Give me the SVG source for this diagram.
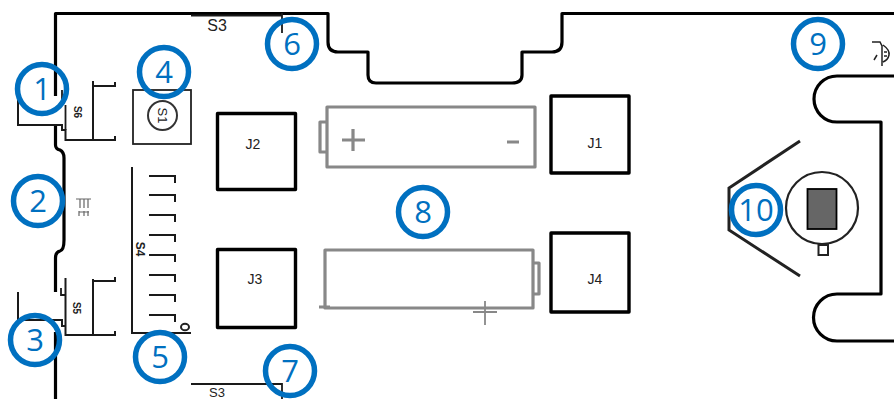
<svg xmlns="http://www.w3.org/2000/svg" width="894" height="399" viewBox="0 0 894 399">
<style>
.o{fill:none;stroke:#000;stroke-width:3.2;stroke-linejoin:round}
.t{fill:none;stroke:#1a1a1a;stroke-width:1.800}
.m{fill:none;stroke:#1a1a1a;stroke-width:2}
.j{fill:#fff;stroke:#000;stroke-width:3.4;stroke-linejoin:round}
.b{fill:none;stroke:#888;stroke-width:3.2;stroke-linejoin:round}
.c{fill:none;stroke:#0070c0;stroke-width:5.5}
.n{font-family:"Open Sans","Noto Sans",sans-serif;font-size:31px;fill:#0070c0;text-anchor:middle}
.l{font-family:"Liberation Sans",Arial,sans-serif;font-size:14px;fill:#222;text-anchor:middle}
.s{font-family:"Liberation Sans",Arial,sans-serif;font-size:10px;font-weight:bold;fill:#222;text-anchor:middle;dominant-baseline:central}
</style>
<rect width="894" height="399" fill="#fff"/>
<g id="board">
<path class="o" d="M55.500 96V13.500H328V42Q328 52 338 52H368V75Q368 83 376 83H512Q522 83 522 75V52H552Q562 52 562 42V13.500H894"/>
<path class="o" d="M55.500 126V145Q55.500 149 60 150Q64 152 64 158V240Q64 250 60 251Q55.500 252 55.500 258V292"/>
<path class="o" d="M55.500 332V399"/>
<path class="o" d="M894 76H837A22.500 22.500 0 0 0 837 122H881V294H837A23.500 23.500 0 0 0 837 341H894"/>
<path class="t" d="M191 15.500H282M282 13V33"/>
<path class="t" d="M191 384H282V399"/>
</g>
<g id="switch-s6">
<path class="m" d="M18 100V125H62V130H65.500V140H93M93 81V140M93 86H115V82M93 140H115V136"/>
<path class="t" d="M62 90V100M65.500 105V130"/>
<text class="s" transform="translate(77 112) rotate(90)">S6</text>
</g>
<g id="test-point">
<path d="M76 199H91M80 199V208M84 199V208M88 199V208M79 211V216M84 211V216M88 211V216M79 212H89" fill="none" stroke="#666" stroke-width="1.200"/>
</g>
<g id="switch-s5">
<path class="m" d="M18 292V320H62V326H65.500M65.500 278V335H115V331M93 335V279M93 281H115V277"/>
<path class="t" d="M61 288V295H65"/>
<text class="s" transform="translate(76 308) rotate(90)">S5</text>
</g>
<g id="switch-s1">
<rect x="133" y="90" width="58" height="54" fill="#fff" stroke="#222" stroke-width="1.800"/>
<circle cx="162.500" cy="115.500" r="14.500" fill="#fff" stroke="#333" stroke-width="2"/>
<text class="s" transform="translate(162.500 115.500) rotate(90)" style="font-size:13px;font-weight:normal">S1</text>
</g>
<g id="switch-s4">
<path class="m" d="M132 167V333H191"/>
<path class="m" d="M149 176H175V183M149 195H175V202M149 215H175V222M149 235H175V242M149 255H175V262M149 275H175V282M149 295H175V302M149 315H175V322"/>
<text class="s" transform="translate(140 249) rotate(90)" style="font-size:12px">S4</text>
<ellipse cx="185" cy="327" rx="4" ry="3.300" fill="none" stroke="#222" stroke-width="2"/>
</g>
<g id="labels-s3">
<text class="l" x="217" y="31" style="font-size:16px">S3</text>
<text class="l" x="217" y="397" style="font-size:13px">S3</text>
</g>
<g id="j2"><rect class="j" x="217.500" y="113.500" width="78" height="76"/><text class="l" x="253" y="149">J2</text></g>
<g id="j3"><rect class="j" x="217.500" y="249.500" width="78" height="78"/><text class="l" x="255" y="284">J3</text></g>
<g id="j1"><rect class="j" x="551" y="96" width="78" height="77"/><text class="l" x="595" y="148">J1</text></g>
<g id="j4"><rect class="j" x="551" y="233" width="78" height="79"/><text class="l" x="595" y="284">J4</text></g>
<g id="battery-top">
<rect class="b" x="327" y="107" width="208" height="60"/>
<path class="b" d="M327 122H320V152H327"/>
<path class="b" d="M342 140H365M353 129V151M507 142H519"/>
</g>
<g id="battery-bottom">
<rect class="b" x="325" y="250" width="208" height="58"/>
<path class="b" d="M533 263H539V294H533M319 307H330"/>
<path d="M473 312H497M485 301V325" fill="none" stroke="#888" stroke-width="1.800"/>
</g>
<g id="holder">
<path d="M800 141L729 188V230L800 276" fill="none" stroke="#222" stroke-width="3"/>
<circle cx="822" cy="208" r="36" fill="#fff" stroke="#222" stroke-width="2.200"/>
<rect x="807.500" y="189" width="29" height="40" fill="#666" stroke="#000" stroke-width="1.800"/>
<rect x="818.500" y="245" width="9.500" height="10" fill="#fff" stroke="#222" stroke-width="2"/>
</g>
<g id="mark">
<path d="M872 42H880L882 46V66M874 60L877 55M883 45Q890 50 889 55Q888 60 883 62M884 52H887M884 56H887" fill="none" stroke="#222" stroke-width="1.500"/>
</g>
<g id="callouts">
<g id="c1"><circle class="c" cx="42" cy="89" r="24.500"/><text class="n" x="42" y="100">1</text></g>
<g id="c2"><circle class="c" cx="38" cy="201" r="24.500"/><text class="n" x="38" y="212">2</text></g>
<g id="c3"><circle class="c" cx="35" cy="340" r="24.500"/><text class="n" x="35" y="351">3</text></g>
<g id="c4"><circle class="c" cx="164" cy="72" r="24.500"/><text class="n" x="164" y="83">4</text></g>
<g id="c5"><circle class="c" cx="160" cy="357" r="24.500"/><text class="n" x="160" y="368">5</text></g>
<g id="c6"><circle class="c" cx="292" cy="44" r="24.500"/><text class="n" x="292" y="55">6</text></g>
<g id="c7"><circle class="c" cx="290" cy="371" r="24.500"/><text class="n" x="290" y="382">7</text></g>
<g id="c8"><circle class="c" cx="423" cy="212" r="24.500"/><text class="n" x="423" y="223">8</text></g>
<g id="c9"><circle class="c" cx="818" cy="44" r="24.500"/><text class="n" x="818" y="55">9</text></g>
<g id="c10"><circle class="c" cx="756" cy="210" r="24.500"/><text class="n" x="756" y="221">10</text></g>
</g>
</svg>
